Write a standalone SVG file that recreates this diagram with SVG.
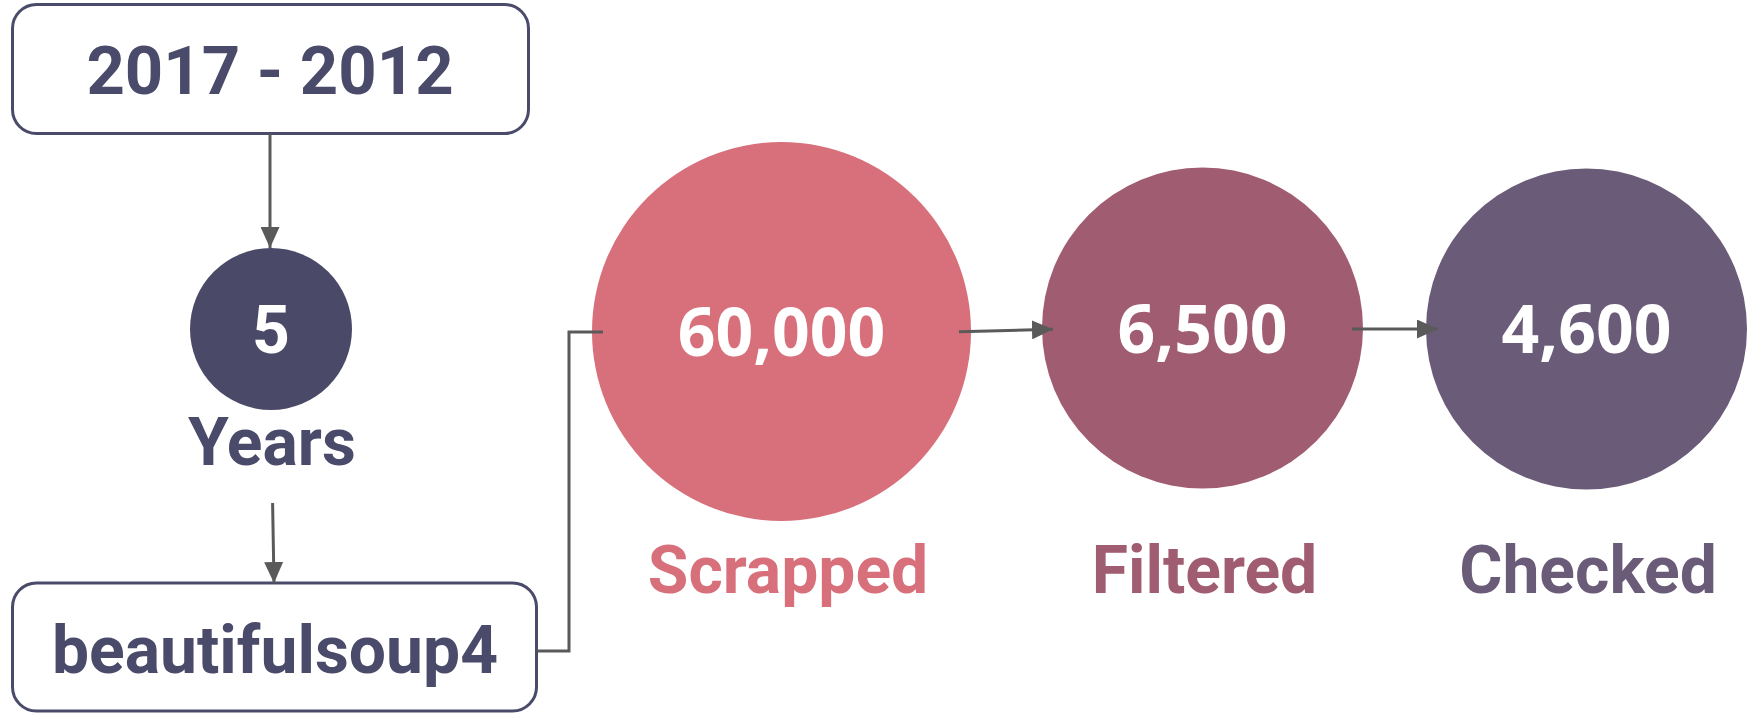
<svg xmlns="http://www.w3.org/2000/svg" width="1748" height="714" viewBox="0 0 1748 714">
<style>
.box{fill:#fff;stroke:#4a4a6a;stroke-width:3}
.bt{font-family:Roboto,"Liberation Sans",sans-serif;font-weight:bold;fill:#4a4a6a;text-anchor:middle}
.num{font-family:"Open Sans","Noto Sans",sans-serif;font-weight:bold;fill:#fff;text-anchor:middle;font-size:66px}
.lab{font-family:Roboto,"Liberation Sans",sans-serif;font-weight:bold;text-anchor:middle;font-size:66px}
.conn{fill:none;stroke:#5a5a5a;stroke-width:3}
</style>
<defs>
<marker id="ah" markerUnits="userSpaceOnUse" markerWidth="21" markerHeight="19" refX="21" refY="9.5" orient="auto">
<path d="M0,0 L21,9.5 L0,19 Z" fill="#5a5a5a"/>
</marker>
</defs>
<g id="node-years-range">
<rect class="box" x="12.5" y="4.5" width="516" height="129" rx="24"/>
<text class="bt" x="270" y="94" font-size="67">2017 - 2012</text>
</g>
<g id="node-five-years">
<circle cx="271" cy="329" r="81" fill="#4a4a68"/>
<text class="num" x="271" y="353" style="font-family:Roboto,'Liberation Sans',sans-serif">5</text>
<text class="bt" x="272" y="465" font-size="66">Years</text>
</g>
<g id="node-bs4">
<rect class="box" x="12.5" y="583" width="524" height="128" rx="24"/>
<text class="bt" x="275" y="673" font-size="66">beautifulsoup4</text>
</g>
<g id="node-scrapped">
<circle cx="781.5" cy="331.5" r="189.5" fill="#d8707b"/>
<text class="num" x="781.5" y="356">60,000</text>
<text class="lab" x="788" y="593" fill="#d8707b">Scrapped</text>
</g>
<g id="node-filtered">
<circle cx="1202.5" cy="328" r="160.5" fill="#a05c70"/>
<text class="num" x="1202.5" y="353">6,500</text>
<text class="lab" x="1204.5" y="593" fill="#a05c70">Filtered</text>
</g>
<g id="node-checked">
<circle cx="1586.5" cy="329" r="160.5" fill="#6a5b78"/>
<text class="num" x="1586.5" y="353">4,600</text>
<text class="lab" x="1588" y="593" fill="#6a5b78">Checked</text>
</g>
<g id="connectors">
<path class="conn" d="M270,134 L270,248" marker-end="url(#ah)"/>
<path class="conn" d="M272.6,503 L274,583" marker-end="url(#ah)"/>
<path class="conn" d="M537,651 H569 V332 H603"/>
<path class="conn" d="M959,331.7 L1053,329.3" marker-end="url(#ah)"/>
<path class="conn" d="M1352,329 L1438,329" marker-end="url(#ah)"/>
</g>
</svg>
